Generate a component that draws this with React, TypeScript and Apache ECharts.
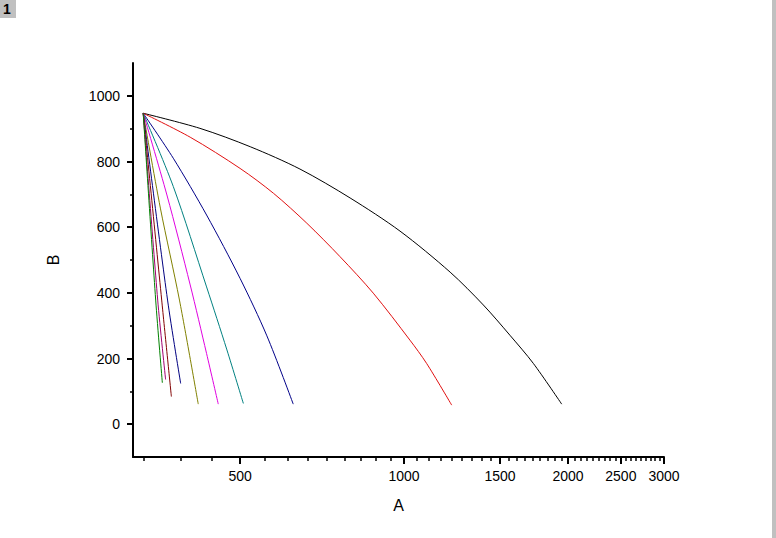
import React, { useEffect, useRef } from "react";
import * as echarts from "echarts";

// ---- data (A, B) ----
const curveBlack = [[332, 947], [422, 901], [522, 845], [644, 777], [796, 689], [983, 588], [1215, 463], [1398, 363], [1564, 271], [1727, 185], [1947, 61]];
const curveRed = [[332, 947], [405, 874], [500, 779], [576, 703], [663, 612], [763, 510], [878, 399], [1025, 256], [1100, 185], [1223, 58]];
const curveBlue = [[332, 947], [377, 810], [434, 637], [500, 444], [560, 269], [626, 61]];
const curveTeal = [[332, 947], [377, 724], [434, 418], [473, 226], [507, 63]];
const curveMagenta = [[332, 947], [367, 698], [405, 424], [434, 215], [456, 61]];
const curveOlive = [[332, 947], [357, 658], [387, 378], [419, 61]];
const curveNavy = [[332, 947], [368, 378], [389, 124]];
const curveWine = [[332, 947], [359, 378], [374, 84]];
const curvePurple = [[332, 947], [353, 378], [365, 136]];
const curveGreen = [[332, 947], [350, 378], [360, 126]];

const seriesList = [
  { name: "c1", data: curveBlack, color: "#000000" },
  { name: "c2", data: curveRed, color: "#e01010" },
  { name: "c3", data: curveBlue, color: "#000088" },
  { name: "c4", data: curveTeal, color: "#008080" },
  { name: "c5", data: curveMagenta, color: "#e000e0" },
  { name: "c6", data: curveOlive, color: "#808000" },
  { name: "c7", data: curveNavy, color: "#000080" },
  { name: "c8", data: curveWine, color: "#800000" },
  { name: "c9", data: curvePurple, color: "#a00070" },
  { name: "c10", data: curveGreen, color: "#008000" },
];

const xMajorTicks = [500, 1000, 1500, 2000, 2500, 3000];
const yMajorTicks = [0, 200, 400, 600, 800, 1000];
const yMinorTicks = [100, 300, 500, 700, 900];
const xMin = 318;
const xMax = 3000;
const yMin = -100;
const yMax = 1100;

function xMinorTicks(): number[] {
  const out: number[] = [];
  const step = (xMajorTicks[1] - xMajorTicks[0]) / 9;
  for (let i = 0; i < xMajorTicks.length - 1; i++) {
    for (let k = 1; k <= 8; k++) out.push(xMajorTicks[i] + k * step);
  }
  for (let k = 1; k <= 8; k++) {
    const v = xMajorTicks[0] - k * step;
    if (v > xMin) out.push(v);
  }
  return out;
}

const L = (v: number) => Math.log10(v);
const FONT = "'Liberation Sans', Arial, sans-serif";

export default function App() {
  const ref = useRef<HTMLDivElement>(null);
  useEffect(() => {
    if (!ref.current) return;
    const chart = echarts.init(ref.current, undefined, { renderer: "svg" });
    const majX = xMajorTicks.map(L);
    const minX = xMinorTicks().map(L);
    chart.setOption({
      animation: false,
      backgroundColor: "#ffffff",
      grid: { left: 133, right: 112, top: 63, bottom: 81, containLabel: false },
      xAxis: [
        {
          type: "value",
          min: L(xMin),
          max: L(xMax),
          name: "A",
          nameLocation: "middle",
          nameGap: 40,
          nameTextStyle: { fontFamily: FONT, fontSize: 16, color: "#000" },
          axisLine: { show: true, onZero: false, lineStyle: { color: "#000", width: 2 } },
          axisTick: { show: true, customValues: majX, length: 7, lineStyle: { color: "#000", width: 2 } },
          axisLabel: {
            customValues: majX,
            formatter: (v: number) => String(Math.round(Math.pow(10, v))),
            fontFamily: FONT,
            fontSize: 14,
            color: "#000",
            margin: 12,
          },
          splitLine: { show: false },
        },
        {
          type: "value",
          min: L(xMin),
          max: L(xMax),
          position: "bottom",
          axisLine: { show: false, onZero: false },
          axisTick: { show: true, customValues: minX, length: 4, lineStyle: { color: "#000", width: 1.5 } },
          axisLabel: { show: false },
          splitLine: { show: false },
        },
      ],
      yAxis: [
        {
          type: "value",
          min: yMin,
          max: yMax,
          name: "B",
          nameLocation: "middle",
          nameGap: 72,
          nameRotate: 90,
          nameTextStyle: { fontFamily: FONT, fontSize: 16, color: "#000" },
          axisLine: { show: true, onZero: false, lineStyle: { color: "#000", width: 2 } },
          axisTick: { show: true, customValues: yMajorTicks, length: 6, lineStyle: { color: "#000", width: 2 } },
          axisLabel: {
            customValues: yMajorTicks,
            formatter: (v: number) => String(Math.round(v)),
            fontFamily: FONT,
            fontSize: 14,
            color: "#000",
            margin: 13,
          },
          splitLine: { show: false },
        },
        {
          type: "value",
          min: yMin,
          max: yMax,
          position: "left",
          axisLine: { show: false, onZero: false },
          axisTick: { show: true, customValues: yMinorTicks, length: 3, lineStyle: { color: "#000", width: 1.5 } },
          axisLabel: { show: false },
          splitLine: { show: false },
        },
      ],
      series: seriesList.map((s) => ({
        type: "line",
        name: s.name,
        xAxisIndex: 0,
        yAxisIndex: 0,
        showSymbol: false,
        symbol: "none",
        smooth: 0.3,
        lineStyle: { color: s.color, width: 1 },
        itemStyle: { color: s.color },
        data: s.data.map((p) => [L(p[0]), p[1]]),
      })),
      graphic: [
        { type: "rect", left: 0, top: 0, shape: { width: 16, height: 18 }, style: { fill: "#c0c0c0" } },
        {
          type: "text",
          left: 3,
          top: 2,
          style: { text: "1", fontFamily: FONT, fontSize: 14, fontWeight: "bold", fill: "#000" },
        },
        { type: "rect", right: 0, top: 0, shape: { width: 4, height: 538 }, style: { fill: "#c0c0c0" } },
      ],
    });
    return () => chart.dispose();
  }, []);
  return (
    <div
      ref={ref}
      style={{ position: "fixed", left: 0, top: 0, width: 776, height: 538, background: "#fff" }}
    />
  );
}
